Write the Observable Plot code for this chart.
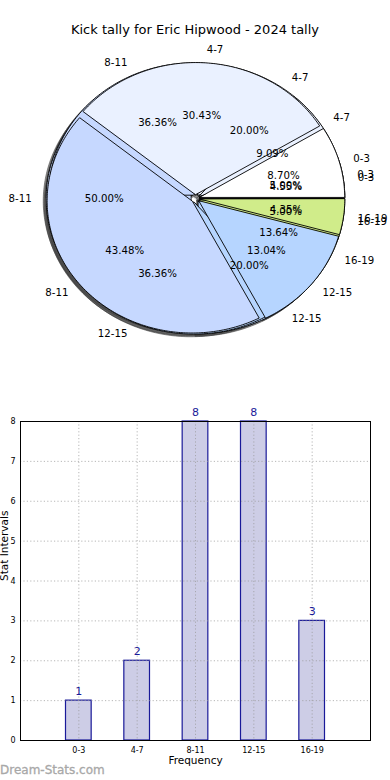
<!DOCTYPE html>
<html>
<head>
<meta charset="utf-8">
<script src="https://cdn.jsdelivr.net/npm/d3@7"></script>
<script src="https://cdn.jsdelivr.net/npm/@observablehq/plot@0.6"></script>
<style>
  html, body { margin: 0; padding: 0; background: #fff; }
  #root { position: relative; width: 390px; height: 780px; overflow: hidden; font-family: "DejaVu Sans", sans-serif; }
  #title { position: absolute; left: 0; top: 22px; width: 390px; text-align: center; font-size: 13px; color: #000; }
  #pie { position: absolute; left: 0; top: 0; }
  #bars { position: absolute; left: 0; top: 400px; }
  #mark { position: absolute; left: 0; top: 763px; font-size: 12px; color: #a8a8a8; font-family: "DejaVu Sans", sans-serif; -webkit-text-stroke: 0.3px #a8a8a8; }
  svg text { font-family: "DejaVu Sans", sans-serif; }
</style>
</head>
<body>
<div id="root">
  <div id="pie"></div>
  <div id="title">Kick tally for Eric Hipwood - 2024 tally</div>
  <div id="bars"></div>
  <div id="mark">Dream-Stats.com</div>
</div>
<script>
// ---- data ----
const categories = ["0-3", "4-7", "8-11", "12-15", "16-19"];
const pieColors = ["#ffffff", "#eaf1ff", "#c6d8ff", "#b6d5ff", "#d0ec8a"];
const tallyC = [1, 4, 10, 4, 1];   // 20
const tallyB = [1, 2, 8, 8, 3];    // 22
const tallyA = [2, 7, 10, 3, 1];   // 23
const pieOrder = [tallyC, tallyB, tallyA]; // drawn bottom to top
const barValues = [1, 2, 8, 8, 3];
const yTicks = [0, 1, 2, 3, 4, 5, 6, 7, 8];

// ---- pie geometry built from the values ----
const explode = 0.03;
function wedges(values, pieIndex) {
  const total = d3.sum(values);
  let a0 = 0;
  return values.map((v, i) => {
    const a1 = a0 + 360 * v / total;
    const mid = (a0 + a1) / 2 * Math.PI / 180;
    const cx = explode * Math.cos(mid), cy = explode * Math.sin(mid);
    const w = {pie: pieIndex, i, a0, a1, mid, cx, cy, pct: (100 * v / total).toFixed(2) + "%", label: categories[i], color: pieColors[i]};
    a0 = a1;
    return w;
  });
}
function polygon(w, dx = 0, dy = 0) {
  const pts = [{key: w.pie + "-" + w.i, u: w.cx + dx, v: w.cy + dy, color: w.color}];
  const n = Math.max(2, Math.ceil(w.a1 - w.a0));
  for (let k = 0; k <= n; k++) {
    const a = (w.a0 + (w.a1 - w.a0) * k / n) * Math.PI / 180;
    pts.push({key: w.pie + "-" + w.i, u: w.cx + dx + Math.cos(a), v: w.cy + dy + Math.sin(a), color: w.color});
  }
  return pts;
}
const allPies = pieOrder.map((vals, p) => wedges(vals, p));
const shadowPts = allPies.flat().flatMap(w => polygon(w, -0.02, -0.02));
const pieMarks = [
  Plot.line(shadowPts, {x: "u", y: "v", z: "key", curve: "linear-closed", fill: "#3a3a3a", fillOpacity: 0.55, stroke: "#3a3a3a", strokeOpacity: 0.55, strokeWidth: 1})
];
allPies.forEach(ws => {
  const pts = ws.flatMap(w => polygon(w));
  pieMarks.push(Plot.line(pts, {x: "u", y: "v", z: "key", curve: "linear-closed", fill: "color", stroke: "#000", strokeWidth: 0.9}));
});
const pctRows = allPies.flat().map(w => ({u: w.cx + 0.6 * Math.cos(w.mid), v: w.cy + 0.6 * Math.sin(w.mid), t: w.pct}));
const lblRows = allPies.flat().map(w => ({u: w.cx + 1.1 * Math.cos(w.mid), v: w.cy + 1.1 * Math.sin(w.mid), t: w.label, right: Math.cos(w.mid) >= 0}));
pieMarks.push(Plot.text(pctRows, {x: "u", y: "v", text: "t", fontSize: 10.2, fill: "#000"}));
pieMarks.push(Plot.text(lblRows.filter(d => d.right), {x: "u", y: "v", text: "t", fontSize: 10.2, fill: "#000", textAnchor: "start"}));
pieMarks.push(Plot.text(lblRows.filter(d => !d.right), {x: "u", y: "v", text: "t", fontSize: 10.2, fill: "#000", textAnchor: "end"}));

const pie = Plot.plot({
  width: 390, height: 380,
  marginTop: 0, marginBottom: 0, marginLeft: 0, marginRight: 0,
  x: {domain: [-195 / 145, 195 / 145], axis: null},
  y: {domain: [-182 / 132, 198 / 132], axis: null},
  color: {type: "identity"},
  marks: pieMarks
});
document.getElementById("pie").append(pie);

// ---- bar chart ----
const barRows = barValues.map((v, i) => ({i, v, cat: categories[i]}));
const bars = Plot.plot({
  width: 390, height: 380,
  marginTop: 21, marginBottom: 40, marginLeft: 20, marginRight: 20,
  style: {fontFamily: "DejaVu Sans, sans-serif", overflow: "visible"},
  x: {type: "linear", domain: [-1, 5]},
  y: {domain: [0, 8]},
  marks: [
    Plot.rect(barRows, {x1: d => d.i - 0.22, x2: d => d.i + 0.22, y1: 0, y2: "v", fill: "#cdcde6", stroke: "#1a1a99", strokeWidth: 1.2}),
    Plot.gridX(d3.range(categories.length), {stroke: "#999", strokeOpacity: 0.7, strokeDasharray: "1.2,2.2"}),
    Plot.gridY(yTicks, {stroke: "#999", strokeOpacity: 0.7, strokeDasharray: "1.2,2.2"}),
    Plot.text(barRows, {x: "i", y: "v", text: d => String(d.v), dy: -9, fill: "#1a1a99", fontSize: 11}),
    Plot.axisX(d3.range(categories.length), {tickFormat: i => categories[i], tickSize: 0, tickPadding: 7, fontSize: 8, label: null}),
    Plot.axisY(yTicks, {tickSize: 0, tickPadding: 5, fontSize: 8, label: null}),
    Plot.text(["Frequency"], {frameAnchor: "bottom", lineAnchor: "middle", dy: 20, fontSize: 10.5, fill: "#000"}),
    Plot.text(["Stat Intervals"], {frameAnchor: "left", dx: -16, rotate: -90, fontSize: 10.5, fill: "#000"}),
    Plot.frame({stroke: "#000", strokeWidth: 1})
  ]
});
document.getElementById("bars").append(bars);
</script>
</body>
</html>
